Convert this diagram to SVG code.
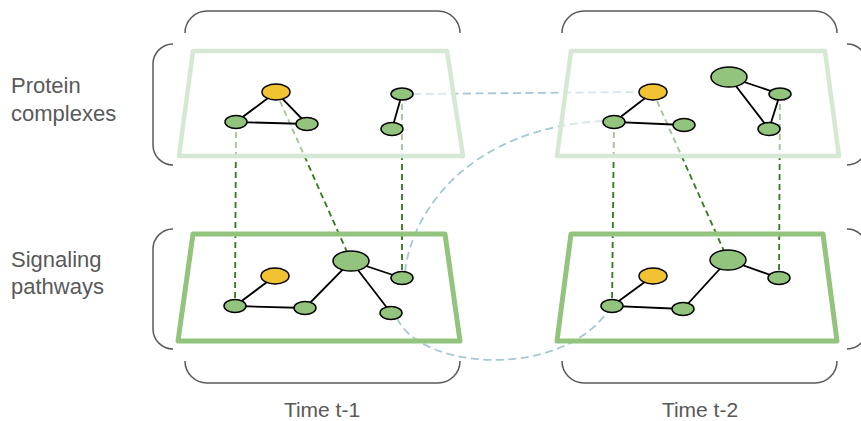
<svg xmlns="http://www.w3.org/2000/svg" width="861" height="421" viewBox="0 0 861 421">
  <style>
    .label { font-family: "Liberation Sans", Arial, sans-serif; font-size: 21px; fill: #595959; }
    .row { font-size: 22px; }
    .brace { fill: none; stroke: #595959; stroke-width: 1.5; }
    .plane-pc { fill: #ffffff; fill-opacity: 0.55; stroke: #d5e8d4; stroke-width: 4.5; stroke-linejoin: round; }
    .plane-sp { fill: none; stroke: #93c47d; stroke-width: 5; stroke-linejoin: round; }
    .node { stroke: #000000; stroke-width: 1.5; }
    .g { fill: #93c47d; }
    .y { fill: #f1c232; }
    .edge { stroke: #000000; stroke-width: 1.8; fill: none; }
    .link { stroke: #3d7a27; stroke-width: 1.9; stroke-dasharray: 6 4; fill: none; }
    .flow { stroke: #a7c8d2; stroke-width: 1.8; stroke-dasharray: 8 4.5; fill: none; }
  </style>

  <!-- layer labels -->
  <g id="labels">
    <text class="label row" x="11" y="93">Protein</text>
    <text class="label row" x="11" y="121">complexes</text>
    <text class="label row" x="11" y="267">Signaling</text>
    <text class="label row" x="11" y="294">pathways</text>
    <text class="label" x="322" y="417" text-anchor="middle">Time t-1</text>
    <text class="label" x="700" y="417" text-anchor="middle">Time t-2</text>
  </g>

  <!-- braces -->
  <g id="braces">
    <path class="brace" d="M185,33 A22,22 0 0 1 207,11 H438 A22,22 0 0 1 460,33"/>
    <path class="brace" d="M562,33 A22,22 0 0 1 584,11 H815 A22,22 0 0 1 837,33"/>
    <path class="brace" d="M185,361 A22,22 0 0 0 207,383 H438 A22,22 0 0 0 460,361"/>
    <path class="brace" d="M562,361 A22,22 0 0 0 584,383 H815 A22,22 0 0 0 837,361"/>
    <path class="brace" d="M173,44 A20,20 0 0 0 153,64 V145 A20,20 0 0 0 173,165"/>
    <path class="brace" d="M173,229 A20,20 0 0 0 153,249 V329 A20,20 0 0 0 173,349"/>
    <path class="brace" d="M847,44 A20,20 0 0 1 867,64 V145 A20,20 0 0 1 847,165"/>
    <path class="brace" d="M847,229 A20,20 0 0 1 867,249 V329 A20,20 0 0 1 847,349"/>
  </g>

  <!-- connectors between layers and time points -->
  <g id="connectors">
    <line class="link" x1="236" y1="122" x2="235" y2="306"/>
    <line class="link" x1="276" y1="92" x2="351" y2="261"/>
    <line class="link" x1="402" y1="94" x2="402" y2="278"/>
    <line class="link" x1="614" y1="122" x2="612" y2="306"/>
    <line class="link" x1="653" y1="92" x2="728" y2="260"/>
    <line class="link" x1="780" y1="94" x2="779" y2="278"/>
    <line class="flow" x1="413" y1="94" x2="640" y2="92"/>
    <path class="flow" d="M405,272 C412,210 470,128 603,121"/>
    <path class="flow" d="M397,318 C420,370 560,380 608,311"/>
  </g>

  <!-- layer planes -->
  <g id="plane-pc-t1"><polygon class="plane-pc" points="193,51 447,51 463,156 179,156"/></g>
  <g id="plane-pc-t2"><polygon class="plane-pc" points="571,51 825,51 839,156 557,156"/></g>
  <g id="plane-sp-t1"><polygon class="plane-sp" points="193,234 445,234 460,341 178,341"/></g>
  <g id="plane-sp-t2"><polygon class="plane-sp" points="571,234 823,234 837,341 557,341"/></g>

  <!-- intra-layer edges -->
  <g id="edges">
    <path class="edge" d="M276,92 L236,122 L307,124 Z"/>
    <line class="edge" x1="402" y1="94" x2="392" y2="129"/>
    <path class="edge" d="M653,92 L614,122 L684,125"/>
    <path class="edge" d="M729,77 L780,94 L769,129 Z"/>
    <path class="edge" d="M275,276 L235,306 L305,308 L351,261 L402,278 M351,261 L391,313"/>
    <path class="edge" d="M653,276 L612,306 L683,309 L728,260 L779,278"/>
  </g>

  <!-- protein complexes, t-1 -->
  <g id="n-pc1-a"><ellipse class="node y" cx="276" cy="92" rx="14" ry="8"/></g>
  <g id="n-pc1-b"><ellipse class="node g" cx="236" cy="122" rx="11" ry="6.5"/></g>
  <g id="n-pc1-c"><ellipse class="node g" cx="307" cy="124" rx="11" ry="6.5"/></g>
  <g id="n-pc1-d"><ellipse class="node g" cx="402" cy="94" rx="11" ry="6"/></g>
  <g id="n-pc1-e"><ellipse class="node g" cx="392" cy="129" rx="11" ry="6.5"/></g>

  <!-- protein complexes, t-2 -->
  <g id="n-pc2-a"><ellipse class="node y" cx="653" cy="92" rx="14" ry="8"/></g>
  <g id="n-pc2-b"><ellipse class="node g" cx="614" cy="122" rx="11" ry="6.5"/></g>
  <g id="n-pc2-c"><ellipse class="node g" cx="684" cy="125" rx="11" ry="6.5"/></g>
  <g id="n-pc2-d"><ellipse class="node g" cx="729" cy="77" rx="18" ry="10"/></g>
  <g id="n-pc2-e"><ellipse class="node g" cx="780" cy="94" rx="11" ry="6"/></g>
  <g id="n-pc2-f"><ellipse class="node g" cx="769" cy="129" rx="11" ry="6.5"/></g>

  <!-- signaling pathways, t-1 -->
  <g id="n-sp1-a"><ellipse class="node y" cx="275" cy="276" rx="14" ry="8"/></g>
  <g id="n-sp1-b"><ellipse class="node g" cx="235" cy="306" rx="11" ry="6.5"/></g>
  <g id="n-sp1-c"><ellipse class="node g" cx="305" cy="308" rx="11" ry="6.5"/></g>
  <g id="n-sp1-d"><ellipse class="node g" cx="351" cy="261" rx="18" ry="10"/></g>
  <g id="n-sp1-e"><ellipse class="node g" cx="402" cy="278" rx="11" ry="6.5"/></g>
  <g id="n-sp1-f"><ellipse class="node g" cx="391" cy="313" rx="11" ry="6.5"/></g>

  <!-- signaling pathways, t-2 -->
  <g id="n-sp2-a"><ellipse class="node y" cx="653" cy="276" rx="14" ry="8"/></g>
  <g id="n-sp2-b"><ellipse class="node g" cx="612" cy="306" rx="11" ry="6.5"/></g>
  <g id="n-sp2-c"><ellipse class="node g" cx="683" cy="309" rx="11" ry="6.5"/></g>
  <g id="n-sp2-d"><ellipse class="node g" cx="728" cy="260" rx="18" ry="10"/></g>
  <g id="n-sp2-e"><ellipse class="node g" cx="779" cy="278" rx="11" ry="6.5"/></g>
</svg>
